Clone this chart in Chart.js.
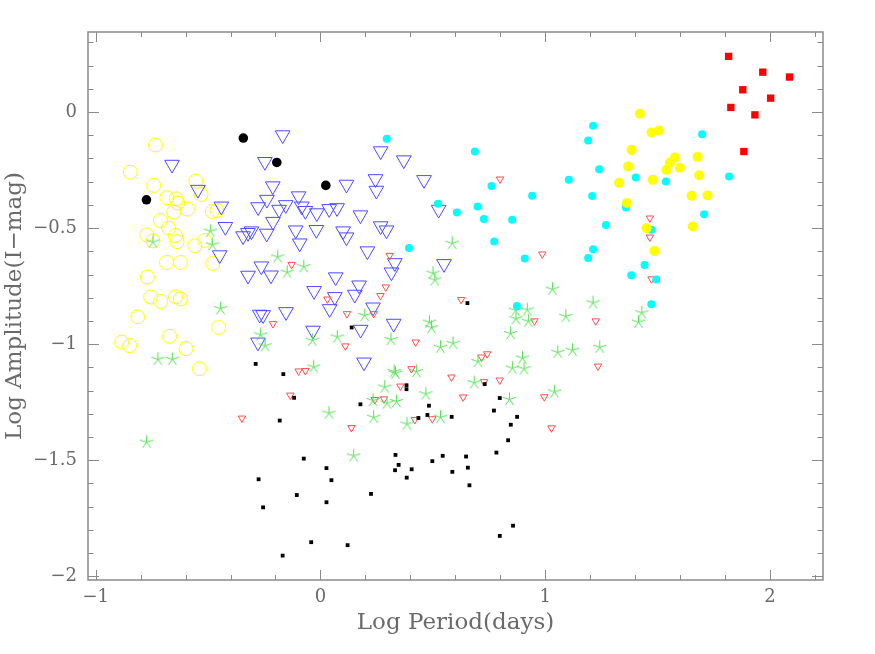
<!DOCTYPE html>
<html>
<head>
<meta charset="utf-8">
<script src="https://cdn.jsdelivr.net/npm/chart.js@4.4.1/dist/chart.umd.min.js"></script>
<style>
html,body{margin:0;padding:0;background:#fff;}
canvas{display:block;}
</style>
</head>
<body>
<canvas id="c" width="875" height="654"></canvas>
<script>
// ---- data (log period, log amplitude) ----
const yellowOpen = [[-0.734,-0.142],[-0.846,-0.259],[-0.742,-0.316],[-0.554,-0.297],[-0.531,-0.355],[-0.683,-0.369],[-0.642,-0.374],[-0.635,-0.392],[-0.592,-0.418],[-0.652,-0.431],[-0.481,-0.428],[-0.460,-0.424],[-0.712,-0.467],[-0.675,-0.500],[-0.773,-0.529],[-0.745,-0.555],[-0.645,-0.532],[-0.638,-0.558],[-0.559,-0.576],[-0.515,-0.553],[-0.685,-0.648],[-0.623,-0.648],[-0.479,-0.652],[-0.770,-0.711],[-0.755,-0.797],[-0.711,-0.816],[-0.644,-0.796],[-0.623,-0.805],[-0.813,-0.882],[-0.453,-0.928],[-0.671,-0.966],[-0.884,-0.991],[-0.849,-1.006],[-0.598,-1.019],[-0.538,-1.106]];
const blackCircle = [[-0.774,-0.378],[-0.343,-0.112],[-0.194,-0.217],[0.024,-0.316]];
const blueTri = [[-0.168,-0.099],[-0.660,-0.226],[-0.247,-0.214],[0.268,-0.168],[0.371,-0.207],[0.116,-0.312],[0.245,-0.288],[0.249,-0.338],[0.461,-0.292],[-0.212,-0.319],[-0.545,-0.334],[-0.097,-0.362],[-0.441,-0.406],[-0.238,-0.377],[-0.277,-0.409],[-0.154,-0.400],[-0.184,-0.420],[-0.083,-0.406],[-0.067,-0.425],[-0.016,-0.435],[0.039,-0.417],[0.074,-0.413],[0.178,-0.444],[0.526,-0.420],[-0.211,-0.472],[-0.423,-0.494],[-0.344,-0.534],[-0.322,-0.520],[-0.307,-0.513],[-0.239,-0.523],[-0.110,-0.509],[-0.018,-0.507],[0.101,-0.513],[0.116,-0.539],[0.268,-0.491],[0.294,-0.509],[-0.092,-0.565],[-0.448,-0.616],[0.209,-0.599],[0.550,-0.654],[0.331,-0.650],[0.316,-0.690],[-0.263,-0.664],[-0.322,-0.704],[-0.220,-0.703],[0.068,-0.711],[-0.028,-0.770],[0.064,-0.796],[0.172,-0.746],[0.153,-0.786],[0.041,-0.848],[0.234,-0.841],[-0.270,-0.872],[-0.255,-0.874],[-0.153,-0.861],[-0.033,-0.941],[0.179,-0.937],[0.326,-0.911],[-0.278,-0.992],[0.194,-1.078]];
const redTri = [[-0.128,-0.657],[-0.211,-0.912],[0.031,-0.806],[-0.097,-1.116],[-0.067,-1.114],[-0.134,-1.220],[-0.349,-1.319],[0.799,-0.289],[0.987,-0.612],[0.308,-0.618],[0.291,-0.754],[0.267,-0.791],[0.118,-0.869],[0.237,-0.869],[0.626,-0.808],[0.952,-0.900],[0.111,-1.008],[0.424,-0.991],[0.717,-1.056],[0.742,-1.042],[0.405,-1.106],[0.583,-1.142],[0.356,-1.181],[0.635,-1.228],[0.728,-1.162],[0.798,-1.155],[0.996,-1.227],[0.242,-1.239],[0.283,-1.236],[0.138,-1.360],[0.420,-1.325],[0.498,-1.322],[1.028,-1.361],[1.473,-0.719],[1.225,-0.900],[1.235,-1.095],[1.466,-0.457],[1.466,-0.539]];
const greenStar = [[-0.490,-0.513],[-0.745,-0.560],[-0.481,-0.572],[-0.190,-0.624],[-0.148,-0.690],[-0.074,-0.666],[-0.444,-0.847],[-0.266,-0.960],[-0.246,-1.007],[-0.036,-0.983],[-0.030,-1.098],[-0.723,-1.065],[-0.659,-1.065],[-0.773,-1.422],[0.075,-0.969],[0.586,-0.565],[0.501,-0.694],[0.509,-0.723],[1.032,-0.763],[0.197,-0.876],[0.314,-0.980],[0.485,-0.905],[0.494,-0.929],[0.846,-0.954],[0.869,-0.854],[0.920,-0.852],[0.870,-0.890],[0.925,-0.901],[0.534,-1.013],[0.590,-0.996],[1.056,-1.035],[0.701,-1.075],[0.899,-1.060],[0.854,-1.103],[0.906,-1.106],[0.328,-1.118],[0.334,-1.125],[0.427,-1.118],[0.684,-1.166],[0.286,-1.185],[0.469,-1.214],[0.234,-1.243],[0.237,-1.315],[0.338,-1.247],[0.296,-1.254],[0.841,-1.238],[1.041,-1.206],[0.038,-1.297],[0.534,-1.315],[0.385,-1.344],[0.148,-1.481],[1.213,-0.822],[1.092,-0.880],[1.430,-0.865],[1.415,-0.905],[1.243,-1.013],[1.121,-1.026]];
const blackSquare = [[-0.288,-1.085],[-0.165,-1.129],[-0.117,-1.231],[-0.181,-1.329],[-0.074,-1.493],[0.027,-1.534],[-0.275,-1.582],[-0.105,-1.650],[-0.255,-1.703],[0.027,-1.681],[-0.041,-1.853],[-0.168,-1.911],[0.654,-0.823],[0.139,-0.928],[0.731,-1.172],[0.383,-1.177],[0.383,-1.194],[0.178,-1.259],[0.483,-1.265],[0.584,-1.313],[0.798,-1.232],[0.772,-1.286],[0.875,-1.313],[0.847,-1.347],[0.835,-1.414],[0.476,-1.305],[0.436,-1.318],[0.049,-1.586],[0.334,-1.477],[0.348,-1.520],[0.332,-1.543],[0.406,-1.539],[0.384,-1.575],[0.498,-1.504],[0.544,-1.481],[0.587,-1.550],[0.648,-1.484],[0.656,-1.532],[0.663,-1.608],[0.225,-1.645],[0.121,-1.866],[0.798,-1.826],[0.857,-1.782],[0.783,-1.467]];
const cyanDot = [[0.295,-0.115],[0.687,-0.170],[0.761,-0.318],[0.942,-0.361],[0.523,-0.395],[0.699,-0.407],[0.607,-0.433],[0.727,-0.461],[0.853,-0.464],[0.773,-0.558],[0.909,-0.631],[0.394,-0.586],[0.874,-0.836],[1.213,-0.059],[1.191,-0.122],[1.698,-0.095],[1.105,-0.292],[1.240,-0.246],[1.403,-0.282],[1.537,-0.299],[1.818,-0.278],[1.209,-0.362],[1.359,-0.411],[1.270,-0.487],[1.473,-0.507],[1.707,-0.440],[1.213,-0.591],[1.191,-0.629],[1.442,-0.659],[1.383,-0.703],[1.494,-0.721],[1.472,-0.828]];
const yellowDot = [[1.421,-0.007],[1.473,-0.088],[1.506,-0.079],[1.384,-0.163],[1.369,-0.234],[1.555,-0.217],[1.577,-0.196],[1.540,-0.249],[1.599,-0.240],[1.678,-0.193],[1.685,-0.272],[1.329,-0.305],[1.478,-0.292],[1.651,-0.361],[1.722,-0.359],[1.363,-0.392],[1.656,-0.493],[1.451,-0.500],[1.486,-0.599]];
const redSquare = [[1.816,0.240],[1.968,0.172],[2.087,0.151],[1.879,0.096],[2.003,0.060],[1.826,0.020],[1.933,-0.012],[1.884,-0.170]];

const xTickValues = [-1, 0, 1, 2];
const yTickValues = [-2, -1.5, -1, -0.5, 0];
const xTitle = 'Log Period(days)';
const yTitle = 'Log Amplitude(I\u2212mag)';

// ---- styles ----
const TEXT = '#6a6a6a';
const FRAME = '#8a8a8a';
const FONT = "'DejaVu Serif', 'Liberation Serif', serif";

function asterisk(color) {
  const c = document.createElement('canvas');
  c.width = 17; c.height = 17;
  const g = c.getContext('2d');
  g.strokeStyle = color; g.lineWidth = 1;
  const cx = 8.5, cy = 8.5, L = 7;
  g.beginPath();
  for (let k = 0; k < 5; k++) {
    const a = (-90 + 72 * k) * Math.PI / 180;
    g.moveTo(cx, cy);
    g.lineTo(cx + L * Math.cos(a), cy + L * Math.sin(a));
  }
  g.stroke();
  return c;
}

const toPts = arr => arr.map(p => ({x: p[0], y: p[1]}));

function ds(data, style) {
  return Object.assign({data: toPts(data), showLine: false}, style);
}

const datasets = [
  ds(redSquare, {pointStyle: 'rect', pointRadius: 5.2, pointBackgroundColor: '#ff0000', pointBorderColor: '#ff0000', pointBorderWidth: 0}),
  ds(yellowDot, {pointStyle: 'circle', pointRadius: 5, pointBackgroundColor: '#ffff00', pointBorderColor: '#ffff00', pointBorderWidth: 0}),
  ds(cyanDot, {pointStyle: 'circle', pointRadius: 4, pointBackgroundColor: '#00ffff', pointBorderColor: '#00ffff', pointBorderWidth: 0}),
  ds(blackCircle, {pointStyle: 'circle', pointRadius: 4.8, pointBackgroundColor: '#000000', pointBorderColor: '#000000', pointBorderWidth: 0}),
  ds(blackSquare, {pointStyle: 'rect', pointRadius: 2.7, pointBackgroundColor: '#000000', pointBorderColor: '#000000', pointBorderWidth: 0}),
  ds(greenStar, {pointStyle: asterisk('#55e055'), pointRadius: 7}),
  ds(redTri, {pointStyle: 'triangle', pointRotation: 180, pointRadius: 4.3, pointBackgroundColor: 'rgba(0,0,0,0)', pointBorderColor: '#ff5050', pointBorderWidth: 1}),
  ds(blueTri, {pointStyle: 'triangle', pointRotation: 180, pointRadius: 8.5, pointBackgroundColor: 'rgba(0,0,0,0)', pointBorderColor: '#4c4cff', pointBorderWidth: 1}),
  ds(yellowOpen, {pointStyle: 'circle', pointRadius: 7, pointBackgroundColor: 'rgba(0,0,0,0)', pointBorderColor: '#ffff00', pointBorderWidth: 1})
];

const fmt = v => (v < 0 ? '\u2212' + String(Math.abs(v)) : String(v));

const framePlugin = {
  id: 'frame',
  afterDraw(chart) {
    const {ctx, chartArea: a, scales: {x, y}} = chart;
    ctx.save();
    ctx.strokeStyle = FRAME;
    ctx.lineWidth = 1.5;
    ctx.strokeRect(a.left, a.top, a.right - a.left, a.bottom - a.top);
    ctx.lineWidth = 1;
    ctx.beginPath();
    for (let i = -5; i <= 11; i++) {
      const px = Math.round(x.getPixelForValue(i * 0.2)) + 0.5;
      const len = (i % 5 === 0) ? 10 : 5;
      ctx.moveTo(px, a.bottom); ctx.lineTo(px, a.bottom - len);
      ctx.moveTo(px, a.top); ctx.lineTo(px, a.top + len);
    }
    for (let i = -20; i <= 3; i++) {
      const py = Math.round(y.getPixelForValue(i * 0.1)) + 0.5;
      const len = (i % 5 === 0) ? 11 : 5.5;
      ctx.moveTo(a.left, py); ctx.lineTo(a.left + len, py);
      ctx.moveTo(a.right, py); ctx.lineTo(a.right - len, py);
    }
    ctx.stroke();
    ctx.restore();
  }
};

new Chart(document.getElementById('c'), {
  type: 'scatter',
  data: {datasets},
  plugins: [framePlugin],
  options: {
    responsive: false,
    animation: false,
    events: [],
    layout: {padding: {left: 0, right: 52, top: 32, bottom: 0}},
    plugins: {legend: {display: false}, tooltip: {enabled: false}},
    scales: {
      x: {
        type: 'linear', min: -1.034, max: 2.236,
        grid: {display: false, drawTicks: false},
        border: {display: false},
        afterBuildTicks: s => { s.ticks = xTickValues.map(v => ({value: v})); },
        afterFit: s => { s.height = 74; },
        ticks: {color: TEXT, font: {family: FONT, size: 18}, padding: 7, maxRotation: 0, autoSkip: false, callback: v => fmt(v)},
        title: {display: true, text: xTitle, color: TEXT, font: {family: FONT, size: 23}, padding: {top: 0, bottom: 17}}
      },
      y: {
        type: 'linear', min: -2.016, max: 0.345,
        grid: {display: false, drawTicks: false},
        border: {display: false},
        afterBuildTicks: s => { s.ticks = yTickValues.map(v => ({value: v})); },
        afterFit: s => { s.width = 88; },
        ticks: {color: TEXT, font: {family: FONT, size: 18}, padding: 11, autoSkip: false, callback: v => fmt(v)},
        title: {display: true, text: yTitle, color: TEXT, font: {family: FONT, size: 23}, padding: {top: 1, bottom: 0}}
      }
    }
  }
});
</script>
</body>
</html>
